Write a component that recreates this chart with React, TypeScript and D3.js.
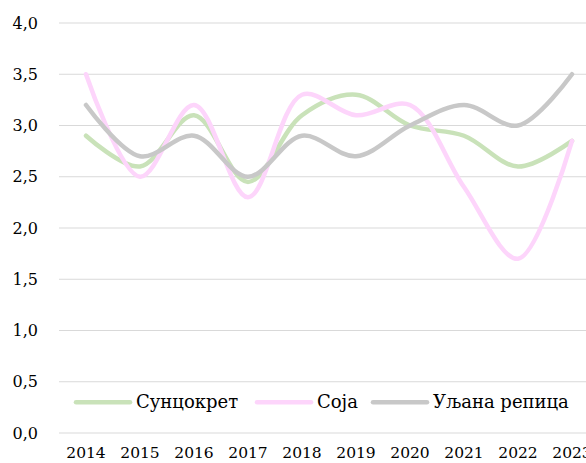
import React from 'react'
import * as d3 from 'd3'

const years = ['2014', '2015', '2016', '2017', '2018', '2019', '2020', '2021', '2022', '2023']
const suncokret = [2.9, 2.6, 3.1, 2.45, 3.1, 3.3, 3.0, 2.9, 2.6, 2.85]
const soja = [3.5, 2.5, 3.2, 2.3, 3.3, 3.1, 3.2, 2.4, 1.7, 2.85]
const uljanaRepica = [3.2, 2.7, 2.9, 2.5, 2.9, 2.7, 3.0, 3.2, 3.0, 3.5]
const yTicks = [0, 0.5, 1, 1.5, 2, 2.5, 3, 3.5, 4]

const seriesNames = ['Сунцокрет', 'Соја', 'Уљана репица']
const seriesColors = ['#c9e2b9', '#fdd5fb', '#c8c8c8']

const width = 586
const height = 463
const padding = { top: 23, right: -13, bottom: 30, left: 59 }
const font = '"DejaVu Serif", serif'

export default function App() {
  const series = [suncokret, soja, uljanaRepica]

  const xScale = d3.scaleBand<string>()
    .domain(years)
    .range([padding.left, width - padding.right])

  const yScale = d3.scaleLinear()
    .domain([0, 4])
    .range([height - padding.bottom, padding.top])

  const line = d3.line<number>()
    .x((d, i) => (xScale(years[i]) as number) + xScale.bandwidth() / 2)
    .y(d => yScale(d))
    .curve(d3.curveCatmullRom.alpha(0.5))

  // legend positions
  const legendY = yScale(0.3)
  const legendX = [76, 257, 373]

  return (
    <svg width={width} height={height}
      style={{ position: 'absolute', left: 0, top: 0, display: 'block', background: '#fff' }}
      fontFamily={font}>
      {/* grid */}
      {yTicks.map(t => (
        <g key={t}>
          <line x1={padding.left} x2={width} y1={yScale(t)} y2={yScale(t)}
            stroke='#d9d9d9' strokeWidth={1} />
          <text x={38} y={yScale(t) + 5.5} textAnchor='end' fontSize={16} fill='#000'>
            {d3.format('.1f')(t).replace('.', ',')}
          </text>
        </g>
      ))}

      {/* x labels */}
      {years.map(y => (
        <text key={y} x={(xScale(y) as number) + xScale.bandwidth() / 2} y={458}
          textAnchor='middle' fontSize={15.5} fill='#000'>
          {y}
        </text>
      ))}

      {/* lines */}
      {series.map((s, i) => (
        <path key={i} d={line(s) || ''} fill='none' stroke={seriesColors[i]}
          strokeWidth={4.5} strokeLinecap='round' strokeLinejoin='round' />
      ))}

      {/* legend */}
      {seriesNames.map((n, i) => (
        <g key={n}>
          <line x1={legendX[i]} x2={legendX[i] + 54} y1={legendY} y2={legendY}
            stroke={seriesColors[i]} strokeWidth={4.5} strokeLinecap='round' />
          <text x={legendX[i] + 60} y={legendY + 6} fontSize={18} fill='#000'>{n}</text>
        </g>
      ))}
    </svg>
  )
}
